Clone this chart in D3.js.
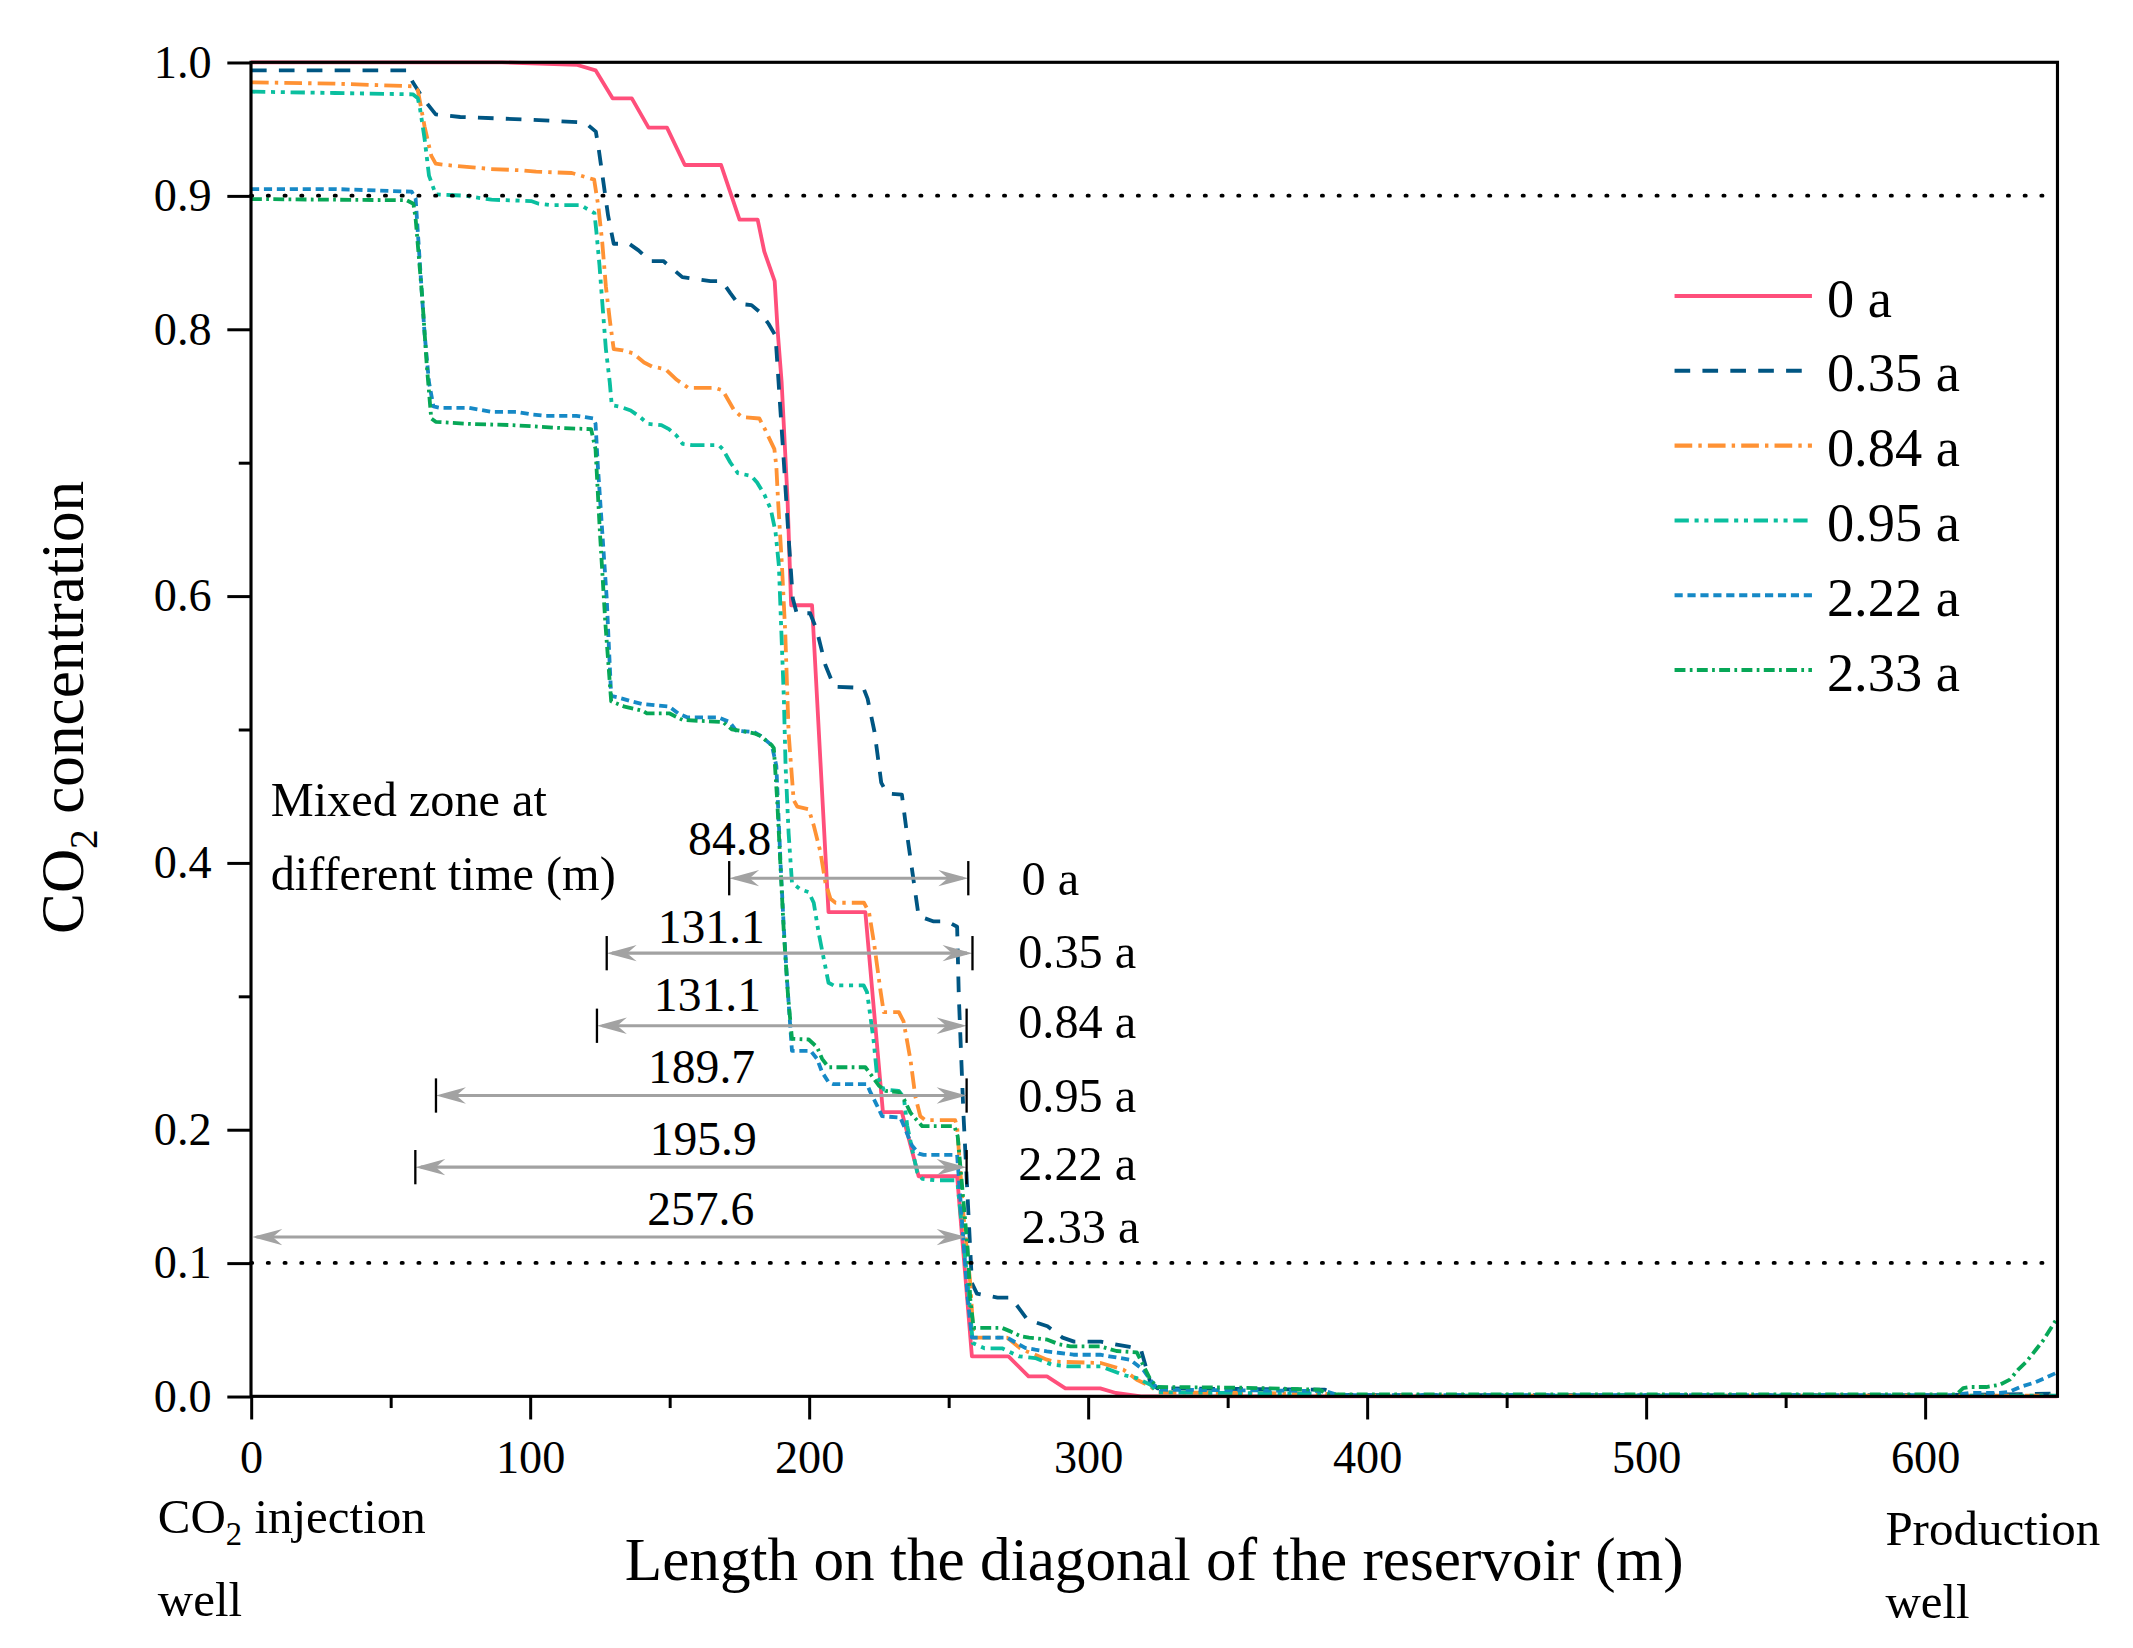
<!DOCTYPE html>
<html><head><meta charset="utf-8">
<script src="https://cdn.jsdelivr.net/npm/d3@7"></script>
<style>
html,body{margin:0;padding:0;background:#fff;}
svg{display:block;}
text{font-family:"Liberation Serif","Times New Roman",serif;fill:#000;}
</style>
</head><body><svg id="chart"></svg>
<script>
// ---------------- DATA ----------------
const seriesNames = ["0 a","0.35 a","0.84 a","0.95 a","2.22 a","2.33 a"];

const s000 = [[0,1],[90,1],[117,0.998],[123.5,0.994],[129.6,0.973],[136.5,0.973],[142.5,0.951],[149.1,0.951],[155.5,0.923],[168.5,0.923],[175.1,0.882],[181.6,0.882],[184,0.858],[187.7,0.836],[188.8,0.798],[190.2,0.76],[192.3,0.673],[193.6,0.593],[201.1,0.593],[207,0.363],[220.2,0.363],[226.5,0.213],[233.3,0.213],[239.3,0.165],[253.1,0.165],[258.4,0.03],[271.5,0.03],[278.7,0.015],[285.3,0.015],[291.9,0.006],[304.4,0.006],[310,0.0025],[319,0],[647.5,0]];

const s035 = [[0,0.994],[55.8,0.994],[58,0.985],[62,0.972],[66.2,0.961],[75,0.959],[100,0.957],[118.2,0.955],[120.8,0.953],[123.6,0.948],[124.5,0.937],[128,0.885],[130,0.864],[135.5,0.864],[138.9,0.859],[143,0.851],[147.8,0.851],[154.6,0.839],[164.7,0.836],[168.8,0.836],[171.8,0.827],[174.6,0.819],[179.4,0.818],[182.8,0.812],[185.5,0.804],[188,0.795],[191,0.70],[192.5,0.65],[194.2,0.598],[195.6,0.587],[200.4,0.587],[202.7,0.575],[205.9,0.548],[209,0.532],[219.5,0.531],[221,0.523],[223.5,0.498],[225.9,0.46],[228,0.452],[233.3,0.451],[235.1,0.422],[239.3,0.36],[244.7,0.356],[249.5,0.356],[253.1,0.352],[253.7,0.30],[255.4,0.21],[256.6,0.16],[258.4,0.085],[260.2,0.077],[267.6,0.074],[272.4,0.074],[275.3,0.066],[278.3,0.0575],[285.5,0.0525],[290.9,0.044],[295,0.041],[304.6,0.041],[315,0.037],[319,0.035],[322.4,0.01],[325,0.006],[385,0.005],[390,0.001],[600,0.0008],[647.5,0.002]];

const s084 = [[0,0.985],[30,0.984],[58,0.982],[59.8,0.979],[62.2,0.952],[64.6,0.930],[66.2,0.924],[70,0.923],[86,0.920],[97.4,0.919],[102.2,0.918],[115,0.917],[118.2,0.915],[123,0.912],[124.5,0.892],[125.9,0.865],[127.2,0.832],[128.6,0.807],[130,0.785],[133.4,0.784],[136.8,0.782],[140.9,0.775],[143.7,0.772],[148.5,0.770],[152.6,0.762],[156.7,0.756],[166.3,0.756],[169.1,0.754],[173.2,0.739],[176,0.734],[182.2,0.733],[184.2,0.725],[187.6,0.71],[188.3,0.697],[188.9,0.672],[190.3,0.623],[191.5,0.572],[192.7,0.497],[194.5,0.447],[195.8,0.442],[199.9,0.44],[201.7,0.428],[204.1,0.408],[205.9,0.385],[207.7,0.373],[209.5,0.37],[219.7,0.37],[221.5,0.363],[223.3,0.34],[225.7,0.303],[226.8,0.288],[232.2,0.288],[233.9,0.281],[236.4,0.252],[238.1,0.225],[239.9,0.21],[241.7,0.207],[252.4,0.207],[253.1,0.202],[255.4,0.135],[257.8,0.085],[259,0.044],[271,0.044],[275.7,0.036],[278.1,0.0337],[285.3,0.0275],[287.9,0.026],[304.6,0.025],[312.7,0.02],[317.5,0.0125],[322.4,0.0075],[325,0.003],[385,0.002],[390,0.0005],[647.5,0.0005]];

const s095 = [[0,0.978],[30,0.977],[58,0.976],[59.8,0.973],[60.6,0.965],[62.2,0.943],[63.8,0.915],[66.2,0.901],[76.6,0.900],[86.2,0.897],[100.4,0.896],[103.1,0.894],[107.2,0.893],[118.2,0.893],[119.7,0.891],[123.1,0.887],[123.8,0.873],[124.9,0.848],[125.8,0.823],[127.2,0.785],[128.6,0.760],[129.3,0.743],[132,0.742],[136.1,0.739],[139.5,0.734],[142.3,0.729],[147.1,0.728],[149.8,0.725],[152.6,0.72],[154.7,0.714],[158.1,0.713],[167.7,0.713],[169.1,0.71],[171.8,0.70],[174.5,0.692],[179.3,0.69],[181.4,0.685],[184,0.676],[186.3,0.665],[188,0.648],[189.2,0.623],[191,0.523],[191.6,0.473],[192.7,0.422],[193.9,0.385],[196.9,0.38],[199.9,0.378],[201.7,0.37],[203.5,0.347],[205.3,0.328],[207,0.31],[208.8,0.308],[219.6,0.308],[220.8,0.303],[222,0.285],[223.2,0.266],[224.4,0.24],[226.8,0.230],[232.2,0.229],[234,0.224],[235.2,0.203],[237,0.185],[238.8,0.168],[240.6,0.163],[245,0.162],[252.2,0.162],[253.3,0.158],[256.9,0.085],[258.7,0.040],[262.9,0.036],[269.2,0.036],[275.2,0.030],[281.1,0.0287],[287.1,0.0237],[292.7,0.0225],[304.6,0.0225],[312.7,0.016],[317.5,0.0137],[322.4,0.0087],[325,0.003],[385,0.002],[390,0.0005],[647.5,0.0005]];

const s222 = [[0,0.905],[30,0.905],[57.6,0.903],[59,0.898],[60.6,0.847],[62.2,0.797],[63.8,0.760],[65.4,0.742],[67.8,0.741],[78.2,0.741],[86.2,0.738],[95,0.738],[100.6,0.736],[105.5,0.735],[116.6,0.735],[119.8,0.734],[122.7,0.733],[123.5,0.729],[124.3,0.698],[125.9,0.648],[126.7,0.623],[127.5,0.598],[128.3,0.561],[129.1,0.525],[131.5,0.524],[136.3,0.521],[140.3,0.519],[145.1,0.518],[149.9,0.517],[153.1,0.512],[156.3,0.509],[167.5,0.509],[171.5,0.5055],[173.9,0.499],[180.3,0.498],[182.7,0.495],[186.7,0.488],[188.3,0.4725],[189.8,0.40],[191,0.35],[192.2,0.31],[193.9,0.259],[200.6,0.259],[202.9,0.253],[204.7,0.243],[207,0.2355],[208.8,0.234],[220.8,0.234],[222,0.228],[224.4,0.218],[226.2,0.21],[232.7,0.209],[234.5,0.2005],[236.9,0.188],[239.3,0.182],[241.1,0.181],[253.1,0.181],[256.9,0.073],[258.4,0.044],[271,0.044],[273.3,0.0413],[277.5,0.0363],[281.1,0.035],[285.3,0.0337],[290,0.0325],[294.8,0.0312],[304.4,0.0312],[307.6,0.030],[315,0.0275],[319.8,0.020],[323.6,0.0087],[326,0.005],[385,0.004],[390,0.0008],[610,0.0008],[616,0.0025],[626.8,0.0025],[630.4,0.0035],[634.6,0.0074],[639.4,0.0104],[643.5,0.0142],[647.5,0.018]];

const s233 = [[0,0.8975],[30,0.897],[55.8,0.8966],[58.2,0.894],[59,0.883],[61.4,0.823],[63,0.773],[64.6,0.733],[66.2,0.7305],[77.9,0.729],[93.9,0.728],[109.9,0.726],[121.9,0.725],[123.5,0.71],[125,0.65],[127,0.58],[129.1,0.521],[133.9,0.517],[140.3,0.514],[141.9,0.512],[149.9,0.512],[154.7,0.507],[169.1,0.5055],[172.3,0.500],[180.3,0.497],[182.7,0.495],[186.7,0.488],[187.4,0.486],[188.6,0.447],[189.8,0.397],[191,0.347],[192.5,0.30],[193.9,0.268],[199.9,0.2675],[202.9,0.2617],[204.7,0.253],[207,0.2467],[220.2,0.2467],[222.6,0.24],[225,0.233],[227.4,0.229],[232.2,0.228],[234,0.223],[236.4,0.2125],[238.8,0.2067],[240.6,0.2025],[252.1,0.2025],[253.3,0.195],[256.9,0.11],[257.8,0.073],[259,0.0513],[269.2,0.0513],[272.2,0.0487],[275.9,0.045],[278.9,0.044],[285.5,0.0425],[289.6,0.039],[293.7,0.0375],[304.4,0.0375],[310.2,0.034],[317.5,0.033],[322.4,0.0125],[324.9,0.007],[355,0.0065],[383,0.005],[386,0.0015],[611.3,0.0015],[613.7,0.0062],[616,0.007],[622,0.007],[626.8,0.0087],[630.4,0.0125],[633.4,0.02],[636.4,0.026],[639.4,0.034],[642.4,0.042],[645.4,0.052],[647.5,0.059]];

const xTickValues = [0,100,200,300,400,500,600];
const xMinorTicks = [50,150,250,350,450,550];
const yTickValues = [0,0.1,0.2,0.4,0.6,0.8,0.9,1.0];
const yMinorTicks = [0.3,0.5,0.7];
const thresholdLevels = [0.1,0.9];

// mixed zone annotations (data units)
const mixTimes  = ["0 a","0.35 a","0.84 a","0.95 a","2.22 a","2.33 a"];
const mixLabels = ["84.8","131.1","131.1","189.7","195.9","257.6"];
const mixStart  = [171.4,127.5,124.0,66.3,58.9,0];
const mixEnd    = [257.1,258.6,256.5,256.5,256.5,256.5];
const mixLevel  = [0.3884,0.3322,0.2778,0.2255,0.1718,0.1194];

// ---------------- LAYOUT / STYLE ----------------
const W = 1568, H = 1211.5;
const colors = ["#ff4f7b","#005683","#ff9234","#0abf9f","#1689c6","#07a757"];
const dashes = [null,"11.5,9","13,4.5,2.5,4.5","10.5,4.2,3,4.2,3,4.2","6,3.5","8,3.2,2,3.2"];
const mixLabelX = [171.6,165,163.6,161.5,162.1,161.2];
const mixLabelDy = [-17.2,-7.3,-10.5,-9,-9.1,-9];
const mixTimeDy = [12.2,11,9.1,11.8,9.3,4.4];

const svg = d3.select("#chart").attr("width",2133).attr("height",1648)
  .attr("viewBox",`0 0 ${W} ${H}`);
svg.append("rect").attr("width",W).attr("height",H).attr("fill","#fff");

const x = d3.scaleLinear().domain([0,647.5]).range([184.5,1512.5]);
const y = d3.scaleLinear().domain([0,1]).range([1026.5,45.8]);

const allSeries = [s000,s035,s084,s095,s222,s233];
const line = d3.line().x(d=>x(d[0])).y(d=>y(d[1]));

// series
const gS = svg.append("g");
allSeries.forEach((s,i)=>{
  gS.append("path").datum(s).attr("d",line)
    .attr("fill","none").attr("stroke",colors[i]).attr("stroke-width",2.8)
    .attr("stroke-linejoin","round")
    .attr("stroke-dasharray",dashes[i]);
});

// threshold dotted lines
svg.append("g").selectAll("line").data(thresholdLevels).join("line")
  .attr("x1",x(0)).attr("x2",x(647.5)).attr("y1",d=>y(d)).attr("y2",d=>y(d))
  .attr("stroke","#000").attr("stroke-width",2.8).attr("stroke-linecap","round")
  .attr("stroke-dasharray","0.9,11.4");

// axes
const fs = 34;
const xAxis = svg.append("g").attr("transform",`translate(0,${y(0)})`)
  .call(d3.axisBottom(x).tickValues(xTickValues).tickFormat(d3.format("d")).tickSize(17).tickPadding(15));
const xAxisMinor = svg.append("g").attr("transform",`translate(0,${y(0)})`)
  .call(d3.axisBottom(x).tickValues(xMinorTicks).tickFormat("").tickSize(8.6));
const yAxis = svg.append("g").attr("transform",`translate(${x(0)},0)`)
  .call(d3.axisLeft(y).tickValues(yTickValues).tickFormat(d3.format(".1f")).tickSize(17.4).tickPadding(11.6));
const yAxisMinor = svg.append("g").attr("transform",`translate(${x(0)},0)`)
  .call(d3.axisLeft(y).tickValues(yMinorTicks).tickFormat("").tickSize(9));
[xAxis,xAxisMinor,yAxis,yAxisMinor].forEach(g=>{
  g.select(".domain").remove();
  g.selectAll(".tick line").attr("stroke","#000").attr("stroke-width",2.2);
  g.selectAll(".tick text").attr("font-size",fs).attr("font-family","Liberation Serif").attr("fill","#000");
});

// frame
svg.append("rect").attr("x",x(0)).attr("y",y(1)).attr("width",x(647.5)-x(0)).attr("height",y(0)-y(1))
  .attr("fill","none").attr("stroke","#000").attr("stroke-width",2.3);

// axis titles
svg.append("text").attr("x",(x(0)+x(647.5))/2).attr("y",1161.3).attr("text-anchor","middle")
  .attr("font-size",45).text("Length on the diagonal of the reservoir (m)");
const yt = svg.append("text").attr("transform","translate(61,520) rotate(-90)").attr("text-anchor","middle")
  .attr("font-size",45);
yt.append("tspan").text("CO");
yt.append("tspan").attr("font-size",29).attr("dy",10).text("2");
yt.append("tspan").attr("dy",-10).text(" concentration");

// well captions
const c1 = svg.append("text").attr("x",116).attr("y",1127).attr("font-size",36);
c1.append("tspan").text("CO");
c1.append("tspan").attr("font-size",24).attr("dy",9).text("2");
c1.append("tspan").attr("dy",-9).text(" injection");
svg.append("text").attr("x",116).attr("y",1188).attr("font-size",36).text("well");
svg.append("text").attr("x",1386).attr("y",1135.6).attr("font-size",36).text("Production");
svg.append("text").attr("x",1386).attr("y",1189.5).attr("font-size",36).text("well");

// legend
const lg = svg.append("g");
const legY0 = 217.6, legDY = 55;
seriesNames.forEach((n,i)=>{
  const ly = legY0 + i*legDY;
  lg.append("line").attr("x1",1231).attr("x2",1332).attr("y1",ly).attr("y2",ly)
    .attr("stroke",colors[i]).attr("stroke-width",3).attr("stroke-dasharray",dashes[i]);
  lg.append("text").attr("x",1343).attr("y",ly+15.2).attr("font-size",40).text(n);
});

// mixed zone annotation
svg.append("text").attr("x",199).attr("y",600.2).attr("font-size",35.5).text("Mixed zone at");
svg.append("text").attr("x",199).attr("y",654.4).attr("font-size",35.5).text("different time (m)");

const gA = svg.append("g");
const gray = "#a2a2a2";
function head(xt, yy, dir){
  const L=22, Wd=6, N=15;
  return `M${xt},${yy} L${xt-dir*L},${yy-Wd} L${xt-dir*N},${yy} L${xt-dir*L},${yy+Wd} Z`;
}
mixLabels.forEach((lab,i)=>{
  const yy = y(mixLevel[i]);
  const xa = x(mixStart[i]), xb = x(mixEnd[i]);
  gA.append("line").attr("x1",xa+4).attr("x2",xb-4).attr("y1",yy).attr("y2",yy)
    .attr("stroke",gray).attr("stroke-width",2.3);
  gA.append("path").attr("d",head(xb,yy,1)).attr("fill",gray);
  gA.append("path").attr("d",head(xa+(i===5?1:0),yy,-1)).attr("fill",gray);
  if(i<5){
    [xa,xb].forEach(xx=>{
      gA.append("line").attr("x1",xx).attr("x2",xx).attr("y1",yy-12.6).attr("y2",yy+12.6)
        .attr("stroke","#000").attr("stroke-width",1.7);
    });
  }
  gA.append("text").attr("x",x(mixLabelX[i])).attr("y",yy+mixLabelDy[i]).attr("text-anchor","middle")
    .attr("font-size",35).text(lab);
  gA.append("text").attr("x",i===0||i===5?750.9:748.5).attr("y",yy+mixTimeDy[i])
    .attr("font-size",35.5).text(mixTimes[i]);
});
</script>
</body></html>
